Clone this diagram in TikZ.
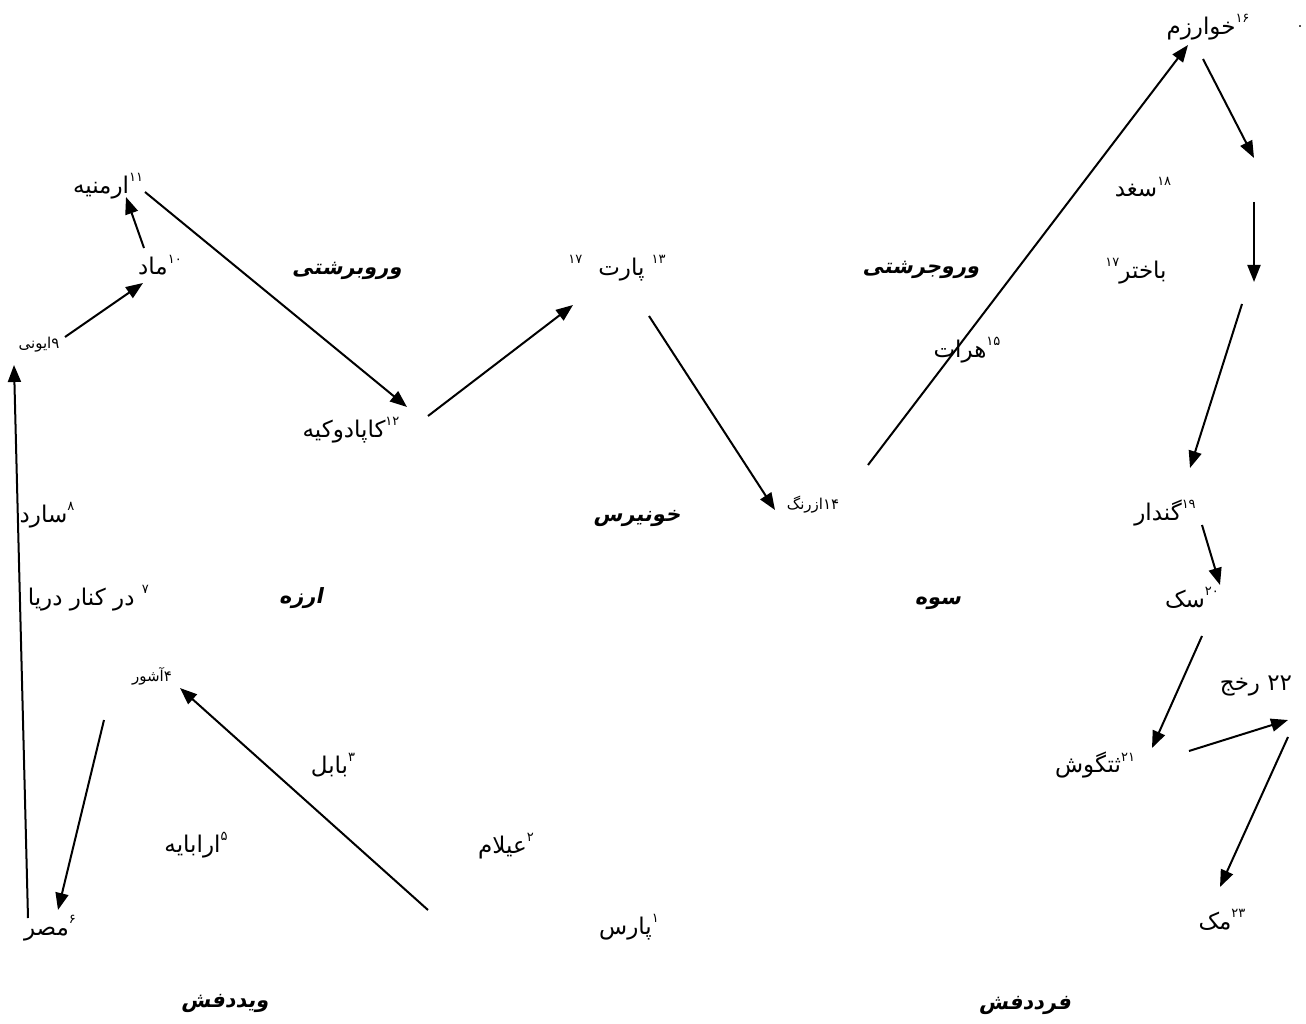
\documentclass[tikz,border=0pt]{standalone}
\usepackage{fontspec}
\usetikzlibrary{arrows.meta}
\TeXXeTstate=1
\newfontfamily\arfont[Script=Arabic]{DejaVu Sans}
\newfontfamily\arbfont[Script=Arabic,FakeSlant=0.2]{DejaVu Sans Bold}
\newcommand\sx[1]{\raisebox{0.5em}{\fontsize{13}{13}\selectfont #1}}
\begin{document}
\begin{tikzpicture}[x=1pt,y=-1pt,
  lbl/.style={inner sep=0pt, font=\arfont\fontsize{23}{26}\selectfont},
  smalllbl/.style={inner sep=0pt, font=\arfont\fontsize{15}{17}\selectfont},
  region/.style={inner sep=0pt, font=\arbfont\fontsize{21}{24}\selectfont},
  arr/.style={line width=2pt, -{Triangle[length=17pt,width=13pt]}}]
\useasboundingbox[fill=white] (0,0) rectangle (1306,1024);

% place labels
\node[lbl] (n1) at (629,927) {\beginR\sx{۱}پارس\endR};
\node[lbl] (n2) at (506,846) {\beginR\sx{۲}عیلام\endR};
\node[lbl] (n3) at (333,765) {\beginR\sx{۳}بابل\endR};
\node[smalllbl] (n4) at (152,676) {\beginR ۴آشور\endR};
\node[lbl] (n5) at (196,845) {\beginR\sx{۵}ارابایه\endR};
\node[lbl] (n6) at (50,928) {\beginR\sx{۶}مصر\endR};
\begin{scope}
\clip (21,570) rectangle (200,630);
\node[lbl,anchor=east] (n7) at (149,598) {\beginR\sx{۷} در کنار دریا\endR};
\end{scope}
\node[lbl] (n8) at (47,515) {\beginR\sx{۸}سارد\endR};
\node[smalllbl] (n9) at (39,345) {\beginR ۹ایونی\endR};
\node[lbl] (n10) at (160,265) {\beginR\sx{۱۰}ماد\endR};
\node[lbl] (n11) at (108,186) {\beginR\sx{۱۱}ارمنیه\endR};
\node[lbl] (n12) at (351,430) {\beginR\sx{۱۲}کاپادوکیه\endR};
\node[lbl] (n13) at (617,268) {\beginR\sx{۱۳} پارت\hspace{16pt}\sx{۱۷}\endR};
\node[smalllbl] (n14) at (813,505) {\beginR ۱۴ازرنگ\endR};
\node[lbl] (n15) at (967,350) {\beginR\sx{۱۵}هرات\endR};
\node[lbl] (n16) at (1208,27) {\beginR\sx{۱۶}خوارزم\endR};
\node[lbl] (n17) at (1136,271) {\beginR باختر\sx{۱۷}\endR};
\node[lbl] (n18) at (1143,187) {\beginR\sx{۱۸}سغد\endR};
\node[lbl] (n19) at (1165,513) {\beginR\sx{۱۹}گندار\endR};
\node[lbl] (n20) at (1192,598) {\beginR\sx{۲۰}سک\endR};
\node[lbl] (n21) at (1095,765) {\beginR\sx{۲۱}ثتگوش\endR};
\node[lbl] (n22) at (1256,686) {\beginR ۲۲ رخج\endR};
\node[lbl] (n23) at (1222,920) {\beginR\sx{۲۳}مک\endR};
\node[inner sep=0pt, font=\fontsize{24}{24}\selectfont] (dot) at (1300,27) {.};

% regions
\node[region] (r1) at (347,271) {\beginR وروبرشتی\endR};
\node[region] (r2) at (921,270) {\beginR وروجرشتی\endR};
\node[region] (r3) at (637,518) {\beginR خونیرس\endR};
\node[region] (r4) at (301,598) {\beginR ارزه\endR};
\node[region] (r5) at (938,603) {\beginR سوه\endR};
\node[region] (r6) at (225,1003) {\beginR ویددفش\endR};
\node[region] (r7) at (1025,1005) {\beginR فرددفش\endR};

% arrow endpoints
\coordinate (a1s) at (428,910);  \coordinate (a1e) at (180,688);
\coordinate (a2s) at (104,720);  \coordinate (a2e) at (58,910);
\coordinate (a3s) at (28,918);   \coordinate (a3e) at (14,365);
\coordinate (a4s) at (65,337);   \coordinate (a4e) at (143,283);
\coordinate (a5s) at (144,248);  \coordinate (a5e) at (126,197);
\coordinate (a6s) at (145,192);  \coordinate (a6e) at (407,407);
\coordinate (a7s) at (428,416);  \coordinate (a7e) at (573,305);
\coordinate (a8s) at (649,316);  \coordinate (a8e) at (775,510);
\coordinate (a9s) at (868,465);  \coordinate (a9e) at (1188,45);
\coordinate (a10s) at (1203,59); \coordinate (a10e) at (1254,158);
\coordinate (a11s) at (1254,202);\coordinate (a11e) at (1254,282);
\coordinate (a12s) at (1242,304);\coordinate (a12e) at (1190,468);
\coordinate (a13s) at (1202,525);\coordinate (a13e) at (1220,585);
\coordinate (a14s) at (1202,636);\coordinate (a14e) at (1152,748);
\coordinate (a15s) at (1189,751);\coordinate (a15e) at (1288,720);
\coordinate (a16s) at (1288,737);\coordinate (a16e) at (1220,887);

\foreach \i in {1,...,16} {\draw[arr] (a\i s) -- (a\i e);}
\end{tikzpicture}
\end{document}
